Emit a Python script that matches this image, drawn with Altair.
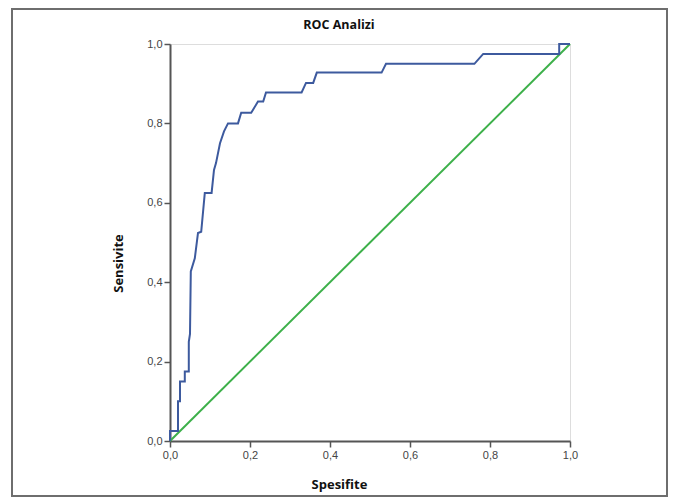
import altair as alt
import pandas as pd

# ROC curve (1 - specificity on x, sensitivity on y)
roc_x = [0.0, 0.0, 0.02, 0.02, 0.025, 0.025, 0.037, 0.037, 0.047, 0.047, 0.050,
         0.052, 0.062, 0.070, 0.078, 0.087, 0.104, 0.110, 0.115, 0.125, 0.135,
         0.145, 0.170, 0.178, 0.203, 0.220, 0.233, 0.240, 0.329, 0.340, 0.358,
         0.367, 0.529, 0.540, 0.761, 0.783, 0.973, 0.973, 1.0]
roc_y = [0.0, 0.025, 0.025, 0.10, 0.10, 0.15, 0.15, 0.175, 0.175, 0.25, 0.27,
         0.427, 0.46, 0.524, 0.527, 0.625, 0.625, 0.683, 0.70, 0.75, 0.78,
         0.80, 0.80, 0.827, 0.827, 0.855, 0.855, 0.878, 0.878, 0.902, 0.902,
         0.928, 0.928, 0.95, 0.95, 0.975, 0.975, 1.0, 1.0]
ref_x = [0.0, 1.0]
ref_y = [0.0, 1.0]
ticks = [0.0, 0.2, 0.4, 0.6, 0.8, 1.0]
title_text = ["ROC Analizi"]

roc = pd.DataFrame({"x": roc_x, "y": roc_y, "i": list(range(len(roc_x)))})
ref = pd.DataFrame({"x": ref_x, "y": ref_y, "i": [0, 1]})

label_expr = "replace(format(datum.value, '.1f'), '.', ',')"

xscale = alt.Scale(domain=[0, 1], nice=False)
yscale = alt.Scale(domain=[0, 1], nice=False)

xaxis = alt.Axis(values=ticks, labelExpr=label_expr, grid=False, tickSize=6,
                 tickColor="#555", domainColor="#555", domainWidth=2, tickWidth=1.5,
                 labelFont="Liberation Sans", labelFontSize=11, labelColor="#444",
                 labelPadding=2, labelFlush=False, title="Spesifite", titleFont="Open Sans",
                 titleFontWeight="bold", titleFontSize=13, titleColor="#111",
                 titleX=169, titleY=43, titleBaseline="middle")
yaxis = alt.Axis(values=ticks, labelExpr=label_expr, grid=False, tickSize=6,
                 tickColor="#555", domainColor="#555", domainWidth=2, tickWidth=1.5,
                 labelFont="Liberation Sans", labelFontSize=11, labelColor="#444",
                 labelPadding=2, labelFlush=False, title="Sensivite", titleFont="Open Sans",
                 titleFontWeight="bold", titleFontSize=13, titleColor="#111",
                 titleX=-52, titleY=219, titleBaseline="middle", titleAngle=270)

frame = alt.Chart(pd.DataFrame({"a": [0]})).mark_rect(
    fill=None, stroke="#6e6e6e", strokeWidth=2, clip=False
).encode(x=alt.value(-158), x2=alt.value(497), y=alt.value(-35), y2=alt.value(452))

title = alt.Chart(pd.DataFrame({"t": title_text})).mark_text(
    font="Open Sans", fontWeight="bold", fontSize=12.5, color="#111",
    baseline="middle", align="center"
).encode(text="t:N", x=alt.value(169), y=alt.value(-19))

diag = alt.Chart(ref).mark_line(color="#3db04a", strokeWidth=2).encode(
    x=alt.X("x:Q", scale=xscale, axis=xaxis),
    y=alt.Y("y:Q", scale=yscale, axis=yaxis),
    order="i:Q",
)
curve = alt.Chart(roc).mark_line(color="#3d5a9e", strokeWidth=2, interpolate="linear").encode(
    x=alt.X("x:Q", scale=xscale),
    y=alt.Y("y:Q", scale=yscale),
    order="i:Q",
)

chart = alt.layer(frame, title, diag, curve).properties(
    width=400, height=397,
    autosize=alt.AutoSizeParams(type="none"),
    padding={"left": 162, "top": 36, "right": 98, "bottom": 56},
).configure_view(stroke="#888", strokeWidth=1.5).configure(background="white")

chart.save("out.html", embed_options={"renderer": "svg", "actions": False})
